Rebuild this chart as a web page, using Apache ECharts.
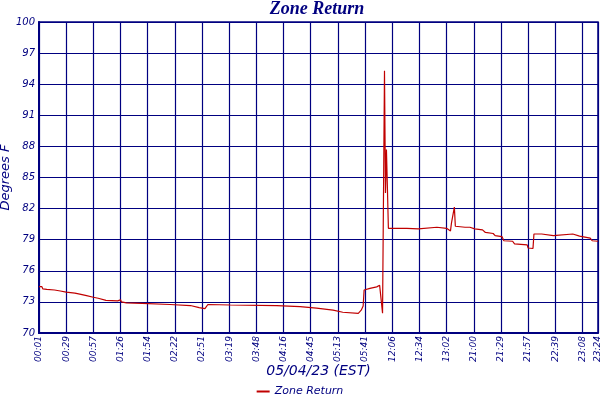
<!DOCTYPE html>
<html><head><meta charset="utf-8">
<script src="https://cdn.jsdelivr.net/npm/echarts@6/dist/echarts.min.js"></script>
<style>html,body{margin:0;padding:0;background:#fff}#c{width:600px;height:400px}</style>
</head><body><div id="c"></div>
<script>
const tickLabels = ["00:01","00:29","00:57","01:26","01:54","02:22","02:51","03:19","03:48","04:16","04:45","05:13","05:41","12:06","12:34","13:02","21:00","21:29","21:57","22:39","23:08","23:24"];
const labelStep = 28;
const lastSample = 576;
const sampleIdx = [0,3,4,8,16,22,28,37,42,49,56,61,69,81,84,85,86,90,106,135,156,165,171,174,197,245,269,286,303,313,329,332,334,335,341,348,351,353,354,355,356,357,358,359,360,379,391,393,410,420,424,425,428,429,430,439,441,444,449,457,460,468,470,477,479,488,490,503,504,509,510,518,519,530,531,550,552,557,559,568,570,576];
const zoneReturn = [74.47,74.47,74.25,74.2,74.15,74.05,73.95,73.85,73.75,73.6,73.45,73.35,73.15,73.1,73.2,73.0,72.95,72.9,72.85,72.75,72.65,72.45,72.35,72.75,72.7,72.65,72.55,72.4,72.2,72.0,71.9,72.2,72.6,74.15,74.3,74.45,74.6,74.65,71.9,83.6,95.3,83.5,87.7,84.0,80.1,80.1,80.05,80.2,80.2,80.1,79.85,80.6,82.15,80.3,80.2,80.2,80.35,80.2,80.05,79.95,79.7,79.6,79.4,79.3,78.9,78.85,78.6,78.5,78.2,78.15,79.55,79.55,79.4,79.4,79.55,79.55,79.4,79.35,79.2,79.15,78.9,78.85];
const seriesName = "Zone Return";
const titleText = "Zone Return";
const xName = "05/04/23 (EST)";
const yName = "Degrees F";

const navy = "#000080";
const font = "DejaVu Sans";
const chart = echarts.init(document.getElementById('c'));
chart.setOption({
  animation: false,
  backgroundColor: '#fff',
  title: { text: titleText, left: 317, textAlign: 'center', top: 0, padding: 0,
    textStyle: { color: navy, fontFamily: 'Liberation Serif', fontStyle: 'italic', fontWeight: 'bold', fontSize: 18 } },
  legend: { data: [seriesName], bottom: 3, left: 'center', padding: 0, icon: 'rect', itemWidth: 13, itemHeight: 2, itemGap: 4,
    textStyle: { color: navy, fontFamily: font, fontStyle: 'italic', fontSize: 11 } },
  grid: { left: 39, right: 2, top: 22, bottom: 67, containLabel: false, outerBoundsMode: 'none',
    show: true, borderColor: navy, borderWidth: 1.5, backgroundColor: '#fff' },
  xAxis: {
    type: 'value', min: 0, max: lastSample, interval: labelStep,
    name: xName, nameLocation: 'middle', nameGap: 31, nameMoveOverlap: false,
    nameTextStyle: { color: navy, fontFamily: font, fontStyle: 'italic', fontSize: 14, verticalAlign: 'top' },
    axisLine: { show: true, lineStyle: { color: navy, width: 2 } },
    axisTick: { show: false },
    axisLabel: { rotate: 90, color: navy, fontFamily: font, fontStyle: 'italic', fontSize: 9, margin: 3,
      showMinLabel: true, showMaxLabel: true,
      formatter: function (v) { return v >= lastSample ? tickLabels[tickLabels.length - 1] : tickLabels[Math.round(v / labelStep)]; } },
    splitLine: { show: true, lineStyle: { color: navy, width: 1.2 } }
  },
  yAxis: {
    type: 'value', min: 70, max: 100, interval: 3,
    name: yName, nameLocation: 'middle', nameGap: 27, nameRotate: 90, nameMoveOverlap: false,
    nameTextStyle: { color: navy, fontFamily: font, fontStyle: 'italic', fontSize: 13 },
    axisLine: { show: true, lineStyle: { color: navy, width: 2 } },
    axisTick: { show: false },
    axisLabel: { color: navy, fontFamily: font, fontStyle: 'italic', fontSize: 10, margin: 4 },
    splitLine: { show: true, lineStyle: { color: navy, width: 1.2 } }
  },
  series: [{
    name: seriesName, type: 'line', showSymbol: false, symbol: 'none',
    color: '#c00000',
    lineStyle: { color: '#c00000', width: 1.2 },
    data: sampleIdx.map((x, i) => [x, zoneReturn[i]])
  }]
});
</script></body></html>
